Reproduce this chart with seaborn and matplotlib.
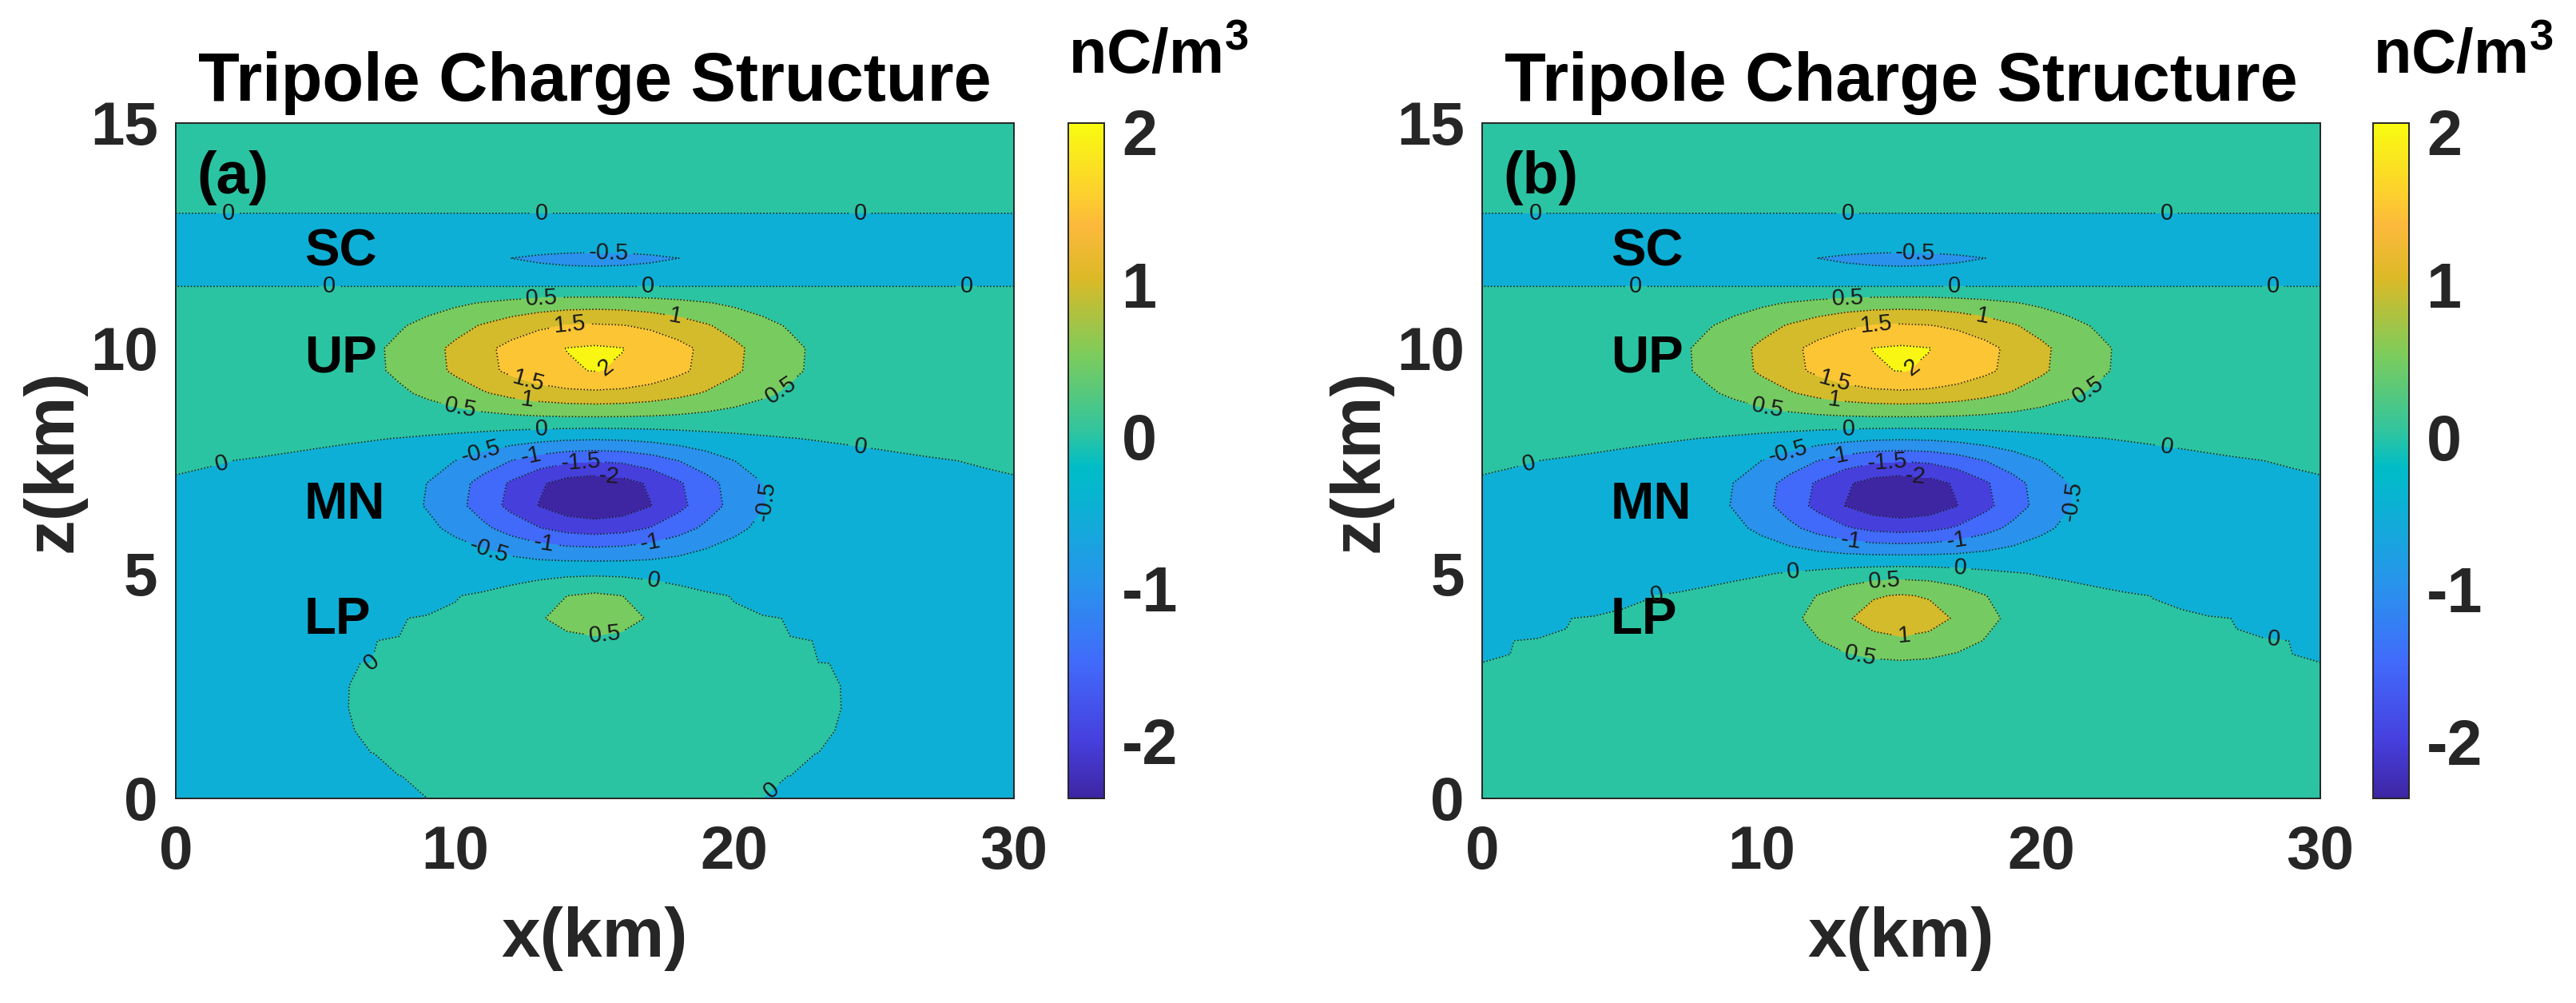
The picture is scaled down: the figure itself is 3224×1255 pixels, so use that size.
"""
Tripole charge structure, panels (a) and (b)
Filled contours of the model charge density with a parula-like colormap.
"""

import numpy as np
import matplotlib
matplotlib.use("Agg")
import matplotlib.pyplot as plt
import seaborn as sns
from matplotlib.colors import LinearSegmentedColormap, Normalize
from matplotlib.cm import ScalarMappable

# model grid (km)
X_KM = np.arange(0.0, 30.5, 1.0)
Z_KM = np.arange(0.0, 15.25, 0.5)

# charge regions (gaussian blobs)
REGIONS = ["SC", "UP", "MN", "LP"]
X0 = [15.0, 15.0, 15.0, 15.0]
AMP_A = [-0.875, 2.12, -2.45, 0.82]
Z0_A = [11.79, 9.78, 6.70, 4.14]
WX_A = [6.3, 6.3, 4.9, 2.7]
WZ_A = [0.52, 1.3, 1.2, 0.79]

AMP_B = [-0.875, 2.12, -2.45, 1.30]
Z0_B = [11.79, 9.78, 6.70, 4.10]
WX_B = [6.3, 6.3, 4.9, 3.65]
WZ_B = [0.52, 1.3, 1.2, 1.05]

LEVELS = [-2.0, -1.5, -1.0, -0.5, 0.0, 0.5, 1.0, 1.5, 2.0]
CBAR_TICKS = [-2, -1, 0, 1, 2]
X_TICKS = [0, 10, 20, 30]
Z_TICKS = [0, 5, 10, 15]

# region names on the left, baseline z (km)
LABEL_Z = [11.84, 9.47, 6.22, 3.65]

# contour label spots (x, z) like the original figure
CLABEL_COMMON = [(1.9, 12.9), (13.1, 12.9), (24.5, 12.9),
                 (5.5, 11.4), (16.9, 11.4), (28.3, 11.4),
                 (15.5, 12.0),
                 (13.1, 11.05), (17.9, 10.75), (14.1, 10.45), (15.5, 9.5),
                 (12.6, 9.25), (12.6, 8.9), (10.2, 8.65), (21.7, 9.05),
                 (1.7, 7.35), (13.1, 8.25), (24.5, 7.8),
                 (10.9, 7.75), (12.7, 7.7), (14.5, 7.4), (15.5, 7.1),
                 (13.2, 5.8), (17.0, 5.6), (11.1, 5.25), (21.1, 6.6)]
CLABEL_A = [(17.1, 4.85), (7.6, 2.6), (21.0, 0.4), (15.4, 3.5)]
CLABEL_B = [(17.1, 5.05), (6.3, 4.3), (28.3, 3.3),
            (14.4, 4.85), (15.1, 3.6), (13.5, 3.1)]

# parula-like colormap anchors
PARULA = [(0.000, (0.243, 0.150, 0.640)),
          (0.085, (0.275, 0.250, 0.870)),
          (0.199, (0.255, 0.415, 0.985)),
          (0.314, (0.160, 0.575, 0.925)),
          (0.428, (0.050, 0.690, 0.835)),
          (0.490, (0.000, 0.740, 0.780)),
          (0.542, (0.185, 0.770, 0.625)),
          (0.657, (0.485, 0.800, 0.360)),
          (0.771, (0.860, 0.725, 0.150)),
          (0.850, (0.990, 0.725, 0.235)),
          (0.886, (0.990, 0.795, 0.190)),
          (1.000, (0.975, 0.985, 0.060))]

DARK = "#262626"


def charge_field(amp, z0, wx, wz):
    xx, zz = np.meshgrid(X_KM, Z_KM)
    rho = np.zeros_like(xx)
    for a, xc, zc, sx, sz in zip(amp, X0, z0, wx, wz):
        rho += a * np.exp(-((xx - xc) / sx) ** 2 - ((zz - zc) / sz) ** 2)
    return xx, zz, rho


def draw_panel(fig, ax, cax, field, letter, clabel_spots, cmap):
    xx, zz, rho = field
    zmin, zmax = rho.min(), rho.max()
    norm = Normalize(zmin, zmax)
    inner = [l for l in LEVELS if zmin < l < zmax]
    bounds = [zmin - 1e-9] + inner + [zmax + 1e-9]
    fills = [cmap(norm(max(b, zmin))) for b in bounds[:-1]]

    ax.contourf(xx, zz, rho, levels=bounds, colors=fills)
    cs = ax.contour(xx, zz, rho, levels=inner, colors="k",
                    linewidths=1.1, linestyles="dotted")
    ax.set_xlim(0, 30)
    ax.set_ylim(0, 15)
    labels = ax.clabel(cs, inline=True, fontsize=21, manual=clabel_spots,
                       fmt=lambda v: f"{v:g}", inline_spacing=6)
    for t in labels:
        t.set_fontweight("normal")

    for name, z in zip(REGIONS, LABEL_Z):
        ax.text(4.6, z, name, fontsize=47, fontweight="bold",
                ha="left", va="baseline", color="black")
    ax.text(0.75, 13.78, letter, fontsize=53, fontweight="bold",
            ha="left", va="center", color="black")

    ax.set_title("Tripole Charge Structure", fontsize=61,
                 fontweight="bold", pad=20, color="black")
    ax.set_xlabel("x(km)", fontsize=63, fontweight="bold", color=DARK,
                  labelpad=22)
    ax.set_ylabel("z(km)", fontsize=63, fontweight="bold", color=DARK,
                  labelpad=4)
    ax.set_xticks(X_TICKS)
    ax.set_yticks(Z_TICKS)
    ax.tick_params(direction="in", length=10, width=1.2, top=True,
                   right=True, labelsize=55, colors=DARK)
    ax.tick_params(axis="x", pad=24)
    ax.tick_params(axis="y", pad=16)
    for lab in ax.get_xticklabels() + ax.get_yticklabels():
        lab.set_fontweight("bold")
    for sp in ax.spines.values():
        sp.set_color(DARK)
        sp.set_linewidth(1.4)

    cb = fig.colorbar(ScalarMappable(norm=norm, cmap=cmap), cax=cax,
                      ticks=CBAR_TICKS)
    cb.ax.tick_params(direction="in", length=10, width=1.2,
                      labelsize=57, colors=DARK, pad=16)
    for lab in cb.ax.get_yticklabels():
        lab.set_fontweight("bold")
    cb.outline.set_edgecolor(DARK)
    cb.outline.set_linewidth(1.4)
    cax.text(0.0, 1.055, "nC/m$^3$", transform=cax.transAxes,
             ha="left", va="bottom", fontsize=56, fontweight="bold",
             color="black")


def main():
    sns.set_theme(style="ticks")
    plt.rcParams["font.family"] = ["Liberation Sans", "DejaVu Sans"]
    plt.rcParams["mathtext.default"] = "regular"
    plt.rcParams["axes.unicode_minus"] = False

    cmap = LinearSegmentedColormap.from_list("parula_like", PARULA, N=256)

    fig = plt.figure(figsize=(32.24, 12.55), dpi=100)
    ax_a = fig.add_axes([0.0682, 0.204, 0.3254, 0.6733])
    cax_a = fig.add_axes([0.4147, 0.204, 0.0140, 0.6733])
    ax_b = fig.add_axes([0.5754, 0.204, 0.3254, 0.6733])
    cax_b = fig.add_axes([0.9212, 0.204, 0.0140, 0.6733])

    field_a = charge_field(AMP_A, Z0_A, WX_A, WZ_A)
    field_b = charge_field(AMP_B, Z0_B, WX_B, WZ_B)

    draw_panel(fig, ax_a, cax_a, field_a, "(a)", CLABEL_COMMON + CLABEL_A, cmap)
    draw_panel(fig, ax_b, cax_b, field_b, "(b)", CLABEL_COMMON + CLABEL_B, cmap)

    fig.savefig("out.png", dpi=100)
    plt.close(fig)


if __name__ == "__main__":
    main()
